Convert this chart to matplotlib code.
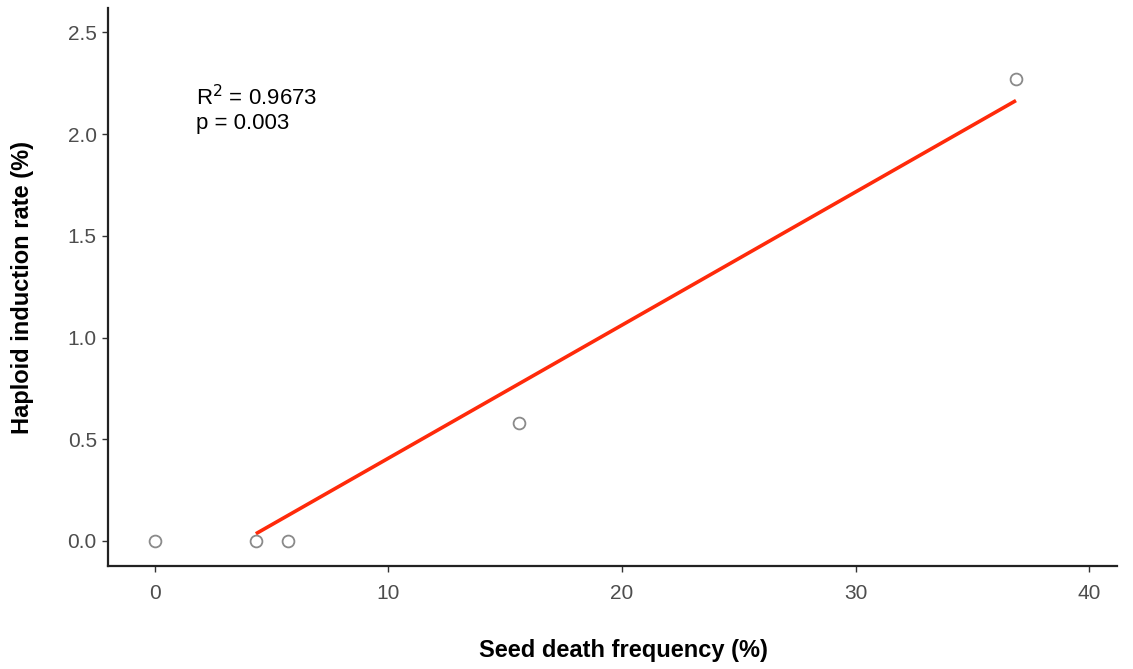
import numpy as np
import matplotlib
matplotlib.use("Agg")
import matplotlib.pyplot as plt

plt.rcParams['font.family'] = ['Liberation Sans', 'DejaVu Sans']

seed_death = [0.0, 4.33, 5.70, 15.59, 36.87]
haploid_rate = [0.0, 0.0, 0.0, 0.58, 2.27]
x_ticks = [0, 10, 20, 30, 40]
y_ticks = [0.0, 0.5, 1.0, 1.5, 2.0, 2.5]
y_ticklabels = ["0.0", "0.5", "1.0", "1.5", "2.0", "2.5"]
fit_range = [4.33, 36.87]
annotation = "R$^{2}$ = 0.9673\np = 0.003"

fig = plt.figure(figsize=(11.33, 6.69), dpi=100)
ax = fig.add_axes([0.0953, 0.154, 0.8907, 0.834])

slope, intercept = np.polyfit(seed_death, haploid_rate, 1)
xf = np.array(fit_range)
ax.plot(xf, slope * xf + intercept, color='#ff2a0a', lw=2.6, solid_capstyle='butt', zorder=2)

ax.plot(seed_death, haploid_rate, linestyle='none', marker='o', markersize=8.5,
        markerfacecolor='white', markeredgecolor='#8a8a8a', markeredgewidth=1.3, zorder=3)

ax.text(1.75, 2.12, annotation, fontsize=16, color='black', va='center', ha='left',
        linespacing=1.15)

ax.set_xlim(-2.0, 41.2)
ax.set_ylim(-0.123, 2.62)
ax.set_xticks(x_ticks)
ax.set_yticks(y_ticks)
ax.set_yticklabels(y_ticklabels)
ax.tick_params(axis='both', labelsize=15, colors='#333333', length=4, width=1.0, labelcolor='#4d4d4d')
ax.tick_params(axis='x', pad=9)
ax.tick_params(axis='y', pad=4)

for s in ['top', 'right']:
    ax.spines[s].set_visible(False)
for s in ['left', 'bottom']:
    ax.spines[s].set_linewidth(1.6)
    ax.spines[s].set_color('#222222')

ax.set_xlabel("Seed death frequency (%)", fontsize=17, fontweight='bold')
ax.xaxis.set_label_coords(0.511, -0.131)
ax.set_ylabel("Haploid induction rate (%)", fontsize=17, fontweight='bold', labelpad=24)

fig.savefig("out.png", dpi=100)
